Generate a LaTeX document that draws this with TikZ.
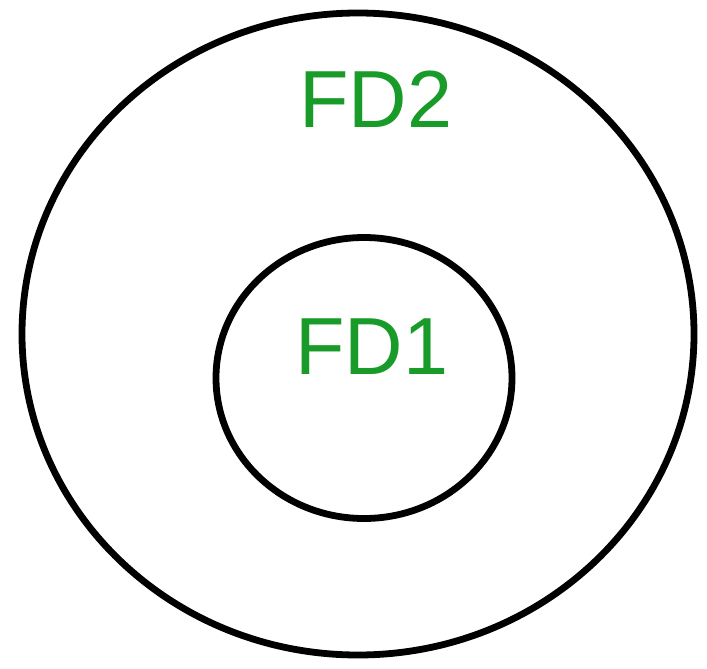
\documentclass[tikz,border=0pt]{standalone}
\usepackage{fontspec}
\setmainfont{Liberation Sans}
\usetikzlibrary{shapes.geometric}
\definecolor{fdgreen}{RGB}{24,155,40}
\tikzset{
  ring/.style={ellipse, draw=black, line width=6.8pt, inner sep=0pt},
  fdlabel/.style={text=fdgreen, font=\fontsize{81}{81}\selectfont, inner sep=0pt, anchor=base west}
}
\begin{document}
\begin{tikzpicture}[x=1pt, y=-1pt]
  \useasboundingbox[fill=white] (0,0) rectangle (707,669);
  % outer set and inner set
  \node[ring, minimum width=672pt, minimum height=642pt] (outer) at (358,334) {};
  \node[ring, minimum width=296pt, minimum height=281pt] (inner) at (364,378) {};
  % labels
  \node[fdlabel] (fd2) at (299,128) {FD2};
  \node[fdlabel] (fd1) at (295,374) {FD1};
\end{tikzpicture}
\end{document}
